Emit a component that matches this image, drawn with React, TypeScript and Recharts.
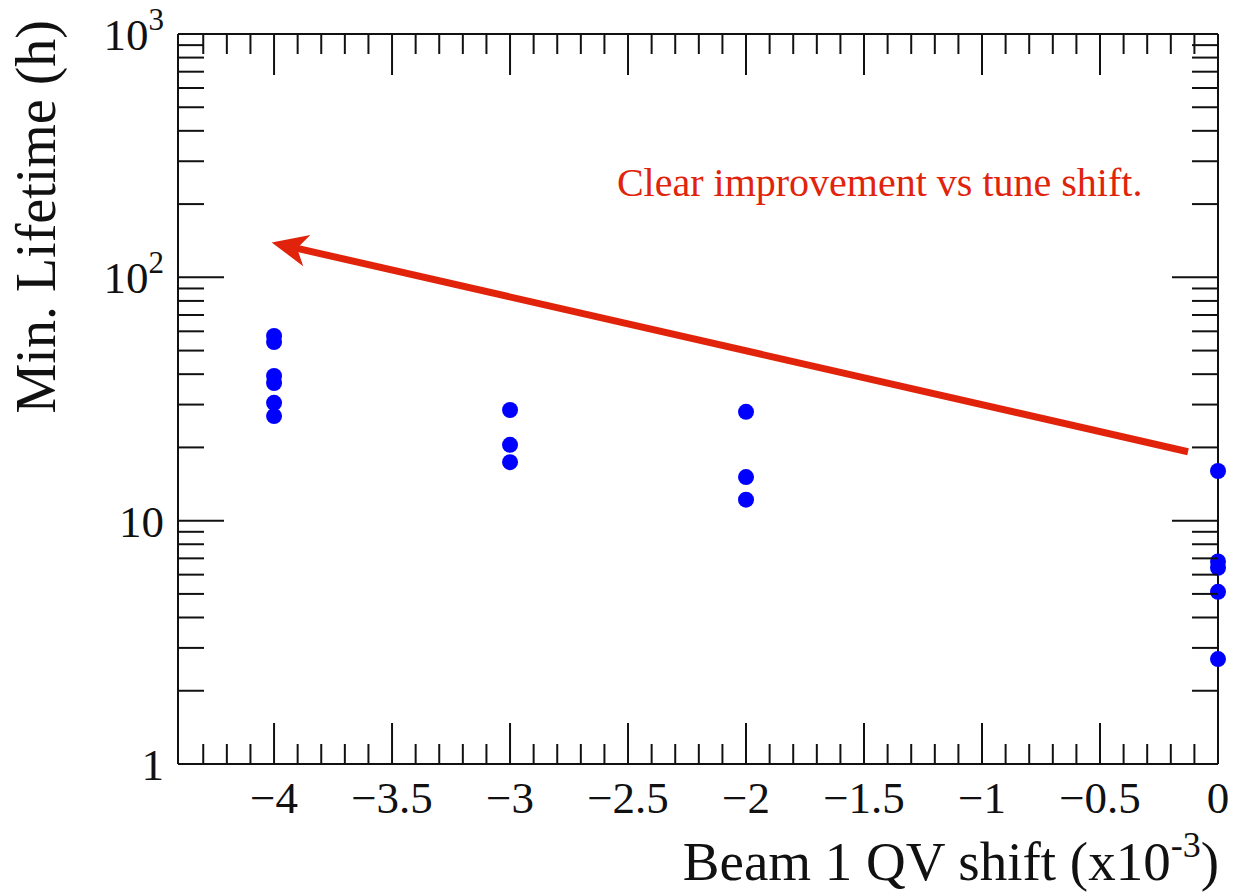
import { ScatterChart, Scatter, XAxis, YAxis, ReferenceLine, ReferenceDot } from "recharts";

const FONT = "'Liberation Serif', 'Times New Roman', serif";
const INK = "#111";
const BLUE = "#0000ff";
const RED = "#e1230b";

// minimum lifetime (h) measured at each Beam 1 QV shift (x10^-3)
const shiftValues = [-4, -3, -2, 0];
const lifetimeAtMinus4 = [57.4, 54.2, 39.3, 36.8, 30.5, 26.9];
const lifetimeAtMinus3 = [28.5, 20.5, 17.4];
const lifetimeAtMinus2 = [28.0, 15.1, 12.2];
const lifetimeAtZero = [16.0, 6.8, 6.4, 5.1, 2.7];

const xMajorTicks = [-4, -3.5, -3, -2.5, -2, -1.5, -1, -0.5, 0];
const xMajorLabels = ["\u22124", "\u22123.5", "\u22123", "\u22122.5", "\u22122", "\u22121.5", "\u22121", "\u22120.5", "0"];
const yMajorTicks = [1, 10, 100, 1000];
const yMajorBase = ["1", "10", "10", "10"];
const yMajorExp = ["", "", "2", "3"];

const xDomain: [number, number] = [-4.407, 0];
const yDomain: [number, number] = [1, 1000];

// arrow and note, in data coordinates
const arrowTail = { x: -0.127, y: 19.2 };
const arrowTip = { x: -4.01, y: 139 };
const noteText = "Clear improvement vs tune shift.";
const notePos = { x: -2.547, y: 216 };

const points = [lifetimeAtMinus4, lifetimeAtMinus3, lifetimeAtMinus2, lifetimeAtZero].flatMap((vals, i) =>
  vals.map((y) => ({ x: shiftValues[i], y }))
);

// minor ticks every 0.1 on x, 2..9 per decade on y
const xTicks: number[] = [];
for (let i = -43; i <= 0; i++) xTicks.push(i / 10);
const yTicks: number[] = [];
for (let d = 1; d < 1000; d *= 10) for (let k = 1; k < 10; k++) yTicks.push(k * d);
yTicks.push(1000);

const isXMajor = (v: number) => Math.abs(v * 2 - Math.round(v * 2)) < 1e-6;
const yMajorIndex = (v: number) => yMajorTicks.findIndex((t) => Math.abs(t - v) < 1e-9);

const X_MAJOR = 41;
const X_MINOR = 20;
const Y_MAJOR = 46;
const Y_MINOR = 26;

function BottomTick({ x, y, payload }: any) {
  const v = payload.value as number;
  const major = isXMajor(v);
  const idx = xMajorTicks.findIndex((t) => Math.abs(t - v) < 1e-6);
  return (
    <g>
      <line x1={x} x2={x} y1={y} y2={y - (major ? X_MAJOR : X_MINOR)} stroke={INK} strokeWidth={2} />
      {major && idx >= 0 && (
        <text x={x} y={y + 49} textAnchor="middle" fontFamily={FONT} fontSize={45} fill={INK}>
          {xMajorLabels[idx]}
        </text>
      )}
    </g>
  );
}

function TopTick({ x, y, payload }: any) {
  const major = isXMajor(payload.value);
  return <line x1={x} x2={x} y1={y} y2={y + (major ? X_MAJOR : X_MINOR)} stroke={INK} strokeWidth={2} />;
}

function LeftTick({ x, y, payload }: any) {
  const idx = yMajorIndex(payload.value);
  const major = idx >= 0;
  return (
    <g>
      <line x1={x} x2={x + (major ? Y_MAJOR : Y_MINOR)} y1={y} y2={y} stroke={INK} strokeWidth={2} />
      {major && (
        <text x={x - 14} y={y + 16} textAnchor="end" fontFamily={FONT} fontSize={45} fill={INK}>
          <tspan>{yMajorBase[idx]}</tspan>
          {yMajorExp[idx] && (
            <tspan dy={-20} fontSize={31}>
              {yMajorExp[idx]}
            </tspan>
          )}
        </text>
      )}
    </g>
  );
}

function RightTick({ x, y, payload }: any) {
  const major = yMajorIndex(payload.value) >= 0;
  return <line x1={x} x2={x - (major ? Y_MAJOR : Y_MINOR)} y1={y} y2={y} stroke={INK} strokeWidth={2} />;
}

function Arrow(props: any) {
  const { x1, y1, x2, y2 } = props;
  const dx = x2 - x1;
  const dy = y2 - y1;
  const len = Math.hypot(dx, dy);
  const ux = dx / len;
  const uy = dy / len;
  const nx = -uy;
  const ny = ux;
  const headLen = 36;
  const halfW = 16;
  const notch = 26;
  const bx = x2 - headLen * ux;
  const by = y2 - headLen * uy;
  const head = [
    [x2, y2],
    [bx + halfW * nx, by + halfW * ny],
    [x2 - notch * ux, y2 - notch * uy],
    [bx - halfW * nx, by - halfW * ny],
  ]
    .map((p) => p.join(","))
    .join(" ");
  return (
    <g>
      <line x1={x1} y1={y1} x2={x2 - (notch - 2) * ux} y2={y2 - (notch - 2) * uy} stroke={RED} strokeWidth={7} />
      <polygon points={head} fill={RED} />
    </g>
  );
}

export default function App() {
  return (
    <div style={{ position: "absolute", left: 0, top: 0, background: "#fff" }}>
      <ScatterChart width={1233} height={896} margin={{ top: 33, right: 14, bottom: 0, left: 0 }}>
        <XAxis
          xAxisId={0}
          type="number"
          dataKey="x"
          domain={xDomain}
          ticks={xTicks}
          interval={0}
          tickSize={0}
          tickMargin={0}
          tick={<BottomTick />}
          axisLine={{ stroke: INK, strokeWidth: 2 }}
          height={132}
          label={{
            content: ({ viewBox }: any) => (
              <text
                x={viewBox.x + viewBox.width + 1}
                y={viewBox.y + 116}
                textAnchor="end"
                fontFamily={FONT}
                fontSize={55}
                fill={INK}
              >
                <tspan>Beam 1 QV shift (x10</tspan>
                <tspan dy={-23} fontSize={36}>-3</tspan>
                <tspan dy={23}>)</tspan>
              </text>
            ),
          }}
        />
        <XAxis
          xAxisId="top"
          orientation="top"
          type="number"
          dataKey="x"
          domain={xDomain}
          allowDataOverflow
          ticks={xTicks}
          interval={0}
          tickSize={0}
          tickMargin={0}
          tick={<TopTick />}
          axisLine={{ stroke: INK, strokeWidth: 2 }}
          height={1}
        />
        <YAxis
          yAxisId={0}
          type="number"
          dataKey="y"
          scale="log"
          domain={yDomain}
          ticks={yTicks}
          interval={0}
          tickSize={0}
          tickMargin={0}
          tick={<LeftTick />}
          axisLine={{ stroke: INK, strokeWidth: 2 }}
          width={178}
          label={{
            content: () => (
              <text
                x={55}
                y={20}
                transform="rotate(-90, 55, 20)"
                textAnchor="end"
                fontFamily={FONT}
                fontSize={56}
                fill={INK}
              >
                Min. Lifetime (h)
              </text>
            ),
          }}
        />
        <YAxis
          yAxisId="right"
          orientation="right"
          type="number"
          dataKey="y"
          scale="log"
          domain={yDomain}
          allowDataOverflow
          ticks={yTicks}
          interval={0}
          tickSize={0}
          tickMargin={0}
          tick={<RightTick />}
          axisLine={{ stroke: INK, strokeWidth: 2 }}
          width={1}
        />
        <ReferenceLine
          segment={[arrowTail, arrowTip]}
          ifOverflow="visible"
          shape={(p: any) => <Arrow {...p} />}
        />
        <ReferenceDot
          x={notePos.x}
          y={notePos.y}
          r={0}
          ifOverflow="visible"
          shape={(p: any) => (
            <text x={p.cx} y={p.cy} fontFamily={FONT} fontSize={40} fill={RED}>
              {noteText}
            </text>
          )}
        />
        <Scatter
          data={points}
          isAnimationActive={false}
          zIndex={900}
          shape={(p: any) => <circle cx={p.cx} cy={p.cy} r={8} fill={BLUE} />}
        />
      </ScatterChart>
    </div>
  );
}
